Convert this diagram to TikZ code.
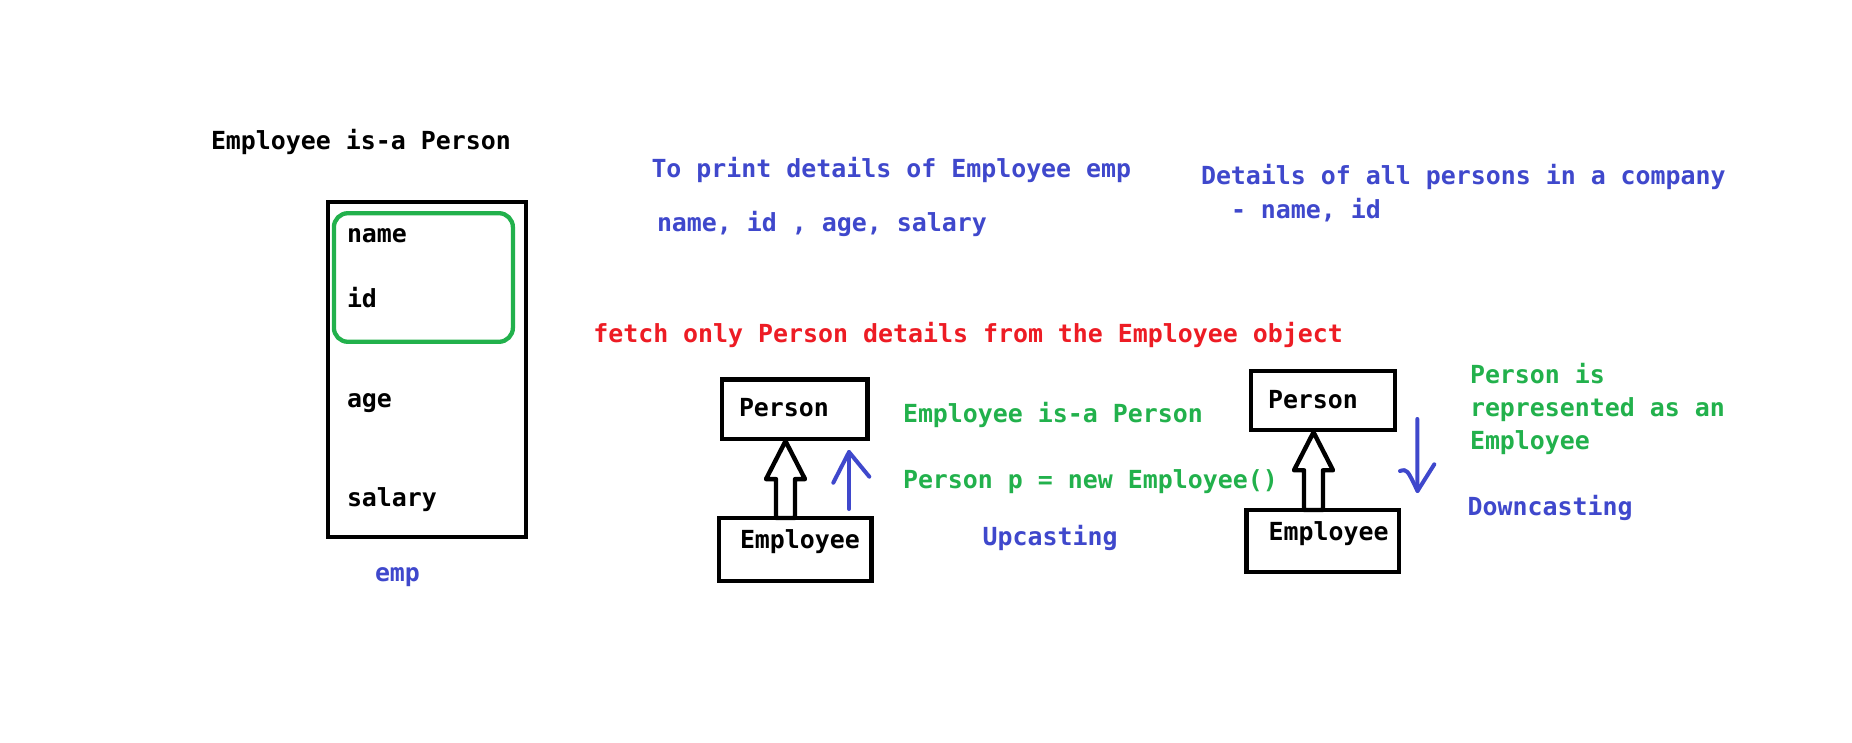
\documentclass[tikz,border=0pt]{standalone}
\usepackage{fontspec}
\newfontfamily\codefont{DejaVu Sans Mono}
\usetikzlibrary{calc}
\definecolor{inkblue}{RGB}{63,72,204}
\definecolor{inkgreen}{RGB}{34,177,76}
\definecolor{inkred}{RGB}{237,28,36}
\begin{document}
\begin{tikzpicture}[x=0.5pt,y=-0.5pt,
  txt/.style={anchor=base west, inner sep=0pt, outer sep=0pt,
    font=\codefont\bfseries\fontsize{12.45pt}{15pt}\selectfont},
  boxframe/.style={draw=black, line width=2.25pt, rectangle, inner sep=0pt},
  hollow/.style={draw=black, fill=white, line width=2.2pt, line join=round},
  pen/.style={draw=inkblue, line width=2pt, line cap=round, line join=round}]
% canvas
\useasboundingbox (0,0) rectangle (1852,743);
\fill[white] (0,0) rectangle (1852,743);

% ---- object layout of an Employee ----
\node[txt] (title) at (211,150) {Employee is-a Person};
\node[boxframe, line width=2.35pt, minimum width=99pt, minimum height=167.5pt] (obj) at (427,369.5) {};
\node[draw=inkgreen, line width=2.15pt, rounded corners=7pt, inner sep=0pt,
      minimum width=89.5pt, minimum height=64.3pt] (part) at (423.4,277.5) {};
\node[txt] (fname) at (347,242.5) {name};
\node[txt] (fid) at (347,307.5) {id};
\node[txt] (fage) at (347,407) {age};
\node[txt] (fsal) at (347,506) {salary};
\node[txt, text=inkblue] (emp) at (375,581.5) {emp};

% ---- notes ----
\node[txt, text=inkblue] (print) at (651.5,177.3) {To print details of Employee emp};
\node[txt, text=inkblue] (fields) at (657,231.7) {name, id , age, salary};
\node[txt, text=inkblue] (all) at (1201,185) {Details of all persons in a company};
\node[txt, text=inkblue] (allf) at (1231,219) {- name, id};
\node[txt, text=inkred] (fetch) at (593.3,342.3) {fetch only Person details from the Employee object};

% ---- upcasting ----
\node[boxframe, minimum width=72.7pt, minimum height=29.65pt] (p1) at (794.7,409.2) {};
\node[boxframe, minimum width=76.3pt, minimum height=31.5pt] (e1) at (795.1,549.5) {};
\node[txt] (p1t) at (739,416.7) {Person};
\node[txt] (e1t) at (740,548.3) {Employee};
\coordinate (t1) at ($(p1.south)+(-9.2,0)$);
\coordinate (b1) at ($(e1.north)+(-9.6,2.2)$);
\draw[hollow] (t1) -- ($(t1)+(19.5,38)$) -- ($(t1)+(9.5,38)$) -- ($(b1)+(9.5,0)$)
  -- ($(b1)+(-9.5,0)$) -- ($(t1)+(-9.5,38)$) -- ($(t1)+(-19.5,38)$) -- cycle;
\coordinate (ua) at (849,509);
\coordinate (ub) at (849,452);
\coordinate (ul) at (833.3,482.7);
\coordinate (ur) at (869.3,476.7);
\draw[pen] (ua) -- (ub);
\draw[pen] (ul) -- (ub) -- (ur);
\node[txt, text=inkgreen] (isa) at (903,422.7) {Employee is-a Person};
\node[txt, text=inkgreen] (code) at (903,488.3) {Person p = new Employee()};
\node[txt, text=inkblue] (up) at (982.7,545) {Upcasting};

% ---- downcasting ----
\node[boxframe, minimum width=72pt, minimum height=29.4pt] (p2) at (1323,400.6) {};
\node[boxframe, minimum width=76.25pt, minimum height=31pt] (e2) at (1322.75,541) {};
\node[txt] (p2t) at (1268,408.3) {Person};
\node[txt] (e2t) at (1268.7,540) {Employee};
\coordinate (t2) at ($(p2.south)+(-9.5,0)$);
\coordinate (b2) at ($(e2.north)+(-9.25,2.2)$);
\draw[hollow] (t2) -- ($(t2)+(19.5,38)$) -- ($(t2)+(9.5,38)$) -- ($(b2)+(9.5,0)$)
  -- ($(b2)+(-9.5,0)$) -- ($(t2)+(-9.5,38)$) -- ($(t2)+(-19.5,38)$) -- cycle;
\coordinate (da) at (1417.3,419);
\coordinate (db) at (1417.5,491);
\coordinate (dl) at (1400,471);
\coordinate (dr) at (1434.3,464.3);
\draw[pen] (da) -- (db);
\draw[pen] (dl) .. controls (1407,469) .. (db) -- (dr);
\node[txt, text=inkgreen] (rep1) at (1470,383.3) {Person is};
\node[txt, text=inkgreen] (rep2) at (1470,416.7) {represented as an};
\node[txt, text=inkgreen] (rep3) at (1470,449) {Employee};
\node[txt, text=inkblue] (down) at (1467.7,515.7) {Downcasting};
\end{tikzpicture}
\end{document}
